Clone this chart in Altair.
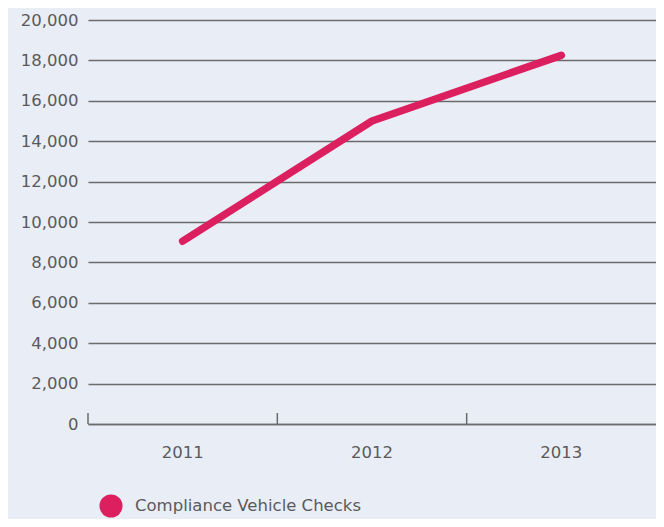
import altair as alt
import pandas as pd

years = ["2011", "2012", "2013"]
checks = [9050, 15000, 18250]
series = ["Compliance Vehicle Checks"] * 3
y_ticks = list(range(0, 20001, 2000))

df = pd.DataFrame({"year": years, "checks": checks, "series": series})

FONT = "DejaVu Sans"
TXT = "#5a5a5c"
LINE = "#dc1f5e"

xscale = alt.Scale(type="band", domain=years, paddingInner=0, paddingOuter=0)

base = alt.Chart(df)

line = base.mark_line(strokeWidth=7.5, strokeCap="round", strokeJoin="round").encode(
    x=alt.X("year:N", scale=xscale, bandPosition=0.5,
            axis=alt.Axis(title=None, labelAngle=0, ticks=False, domain=True,
                          domainColor="#6b6b6d", domainWidth=1.5,
                          labelFont=FONT, labelFontSize=16.5, labelColor=TXT,
                          labelPadding=20, grid=False)),
    y=alt.Y("checks:Q", scale=alt.Scale(domain=[0, 20000], nice=False),
            axis=alt.Axis(title=None, values=y_ticks, format=",.0f", ticks=False,
                          domain=False, grid=True, gridColor="#6b6b6d",
                          gridWidth=1.5, labelFont=FONT, labelFontSize=16.5,
                          labelColor=TXT, labelPadding=10)),
    color=alt.Color("series:N", scale=alt.Scale(range=[LINE]),
                    legend=alt.Legend(title=None, orient="none", legendX=11,
                                      legendY=474, padding=0, symbolType="circle",
                                      symbolSize=530, symbolStrokeWidth=0,
                                      symbolFillColor=LINE, labelLimit=400,
                                      labelFont=FONT, labelFontSize=16.5,
                                      labelColor=TXT, labelOffset=12)),
)

ticks = base.mark_rule(color="#6b6b6d", strokeWidth=1.5).encode(
    x=alt.X("year:N", scale=xscale, bandPosition=0),
    y=alt.value(393),
    y2=alt.value(404),
)

chart = alt.layer(line, ticks).properties(
    width=568, height=404,
    background="#e9edf6",
    padding={"left": 80, "top": 12, "right": 0, "bottom": 95},
    autosize=alt.AutoSizeParams(type="none"),
).configure_view(stroke=None)

chart.save("out.html", embed_options={"renderer": "svg", "actions": False})
